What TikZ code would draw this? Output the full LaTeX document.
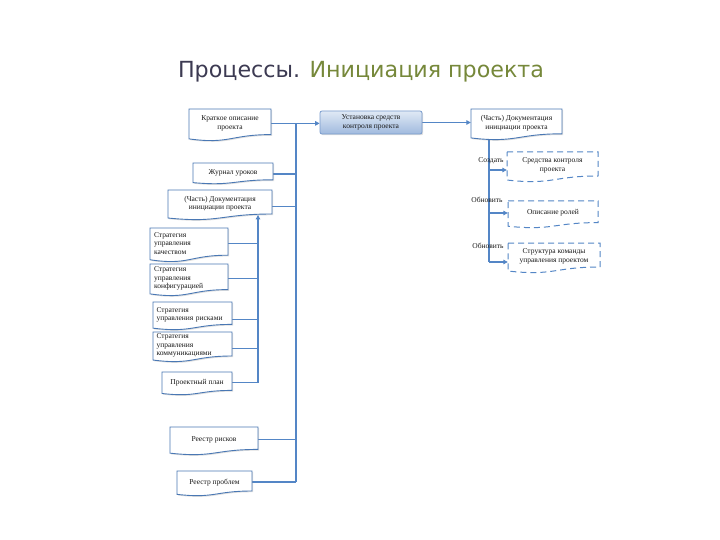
\documentclass[tikz,border=0pt]{standalone}
\usepackage{fontspec}
\setmainfont{Liberation Serif}
\newfontfamily\titlefont{DejaVu Sans}
\usetikzlibrary{arrows.meta,shadows,calc}
\definecolor{lnblue}{RGB}{84,134,198}
\definecolor{bxblue}{RGB}{74,120,180}
\definecolor{titlegray}{RGB}{60,58,82}
\definecolor{titlegreen}{RGB}{118,136,58}
\definecolor{ctrltop}{RGB}{224,233,245}
\definecolor{ctrlbot}{RGB}{160,186,222}
\definecolor{ctrlline}{RGB}{120,155,205}
\pgfdeclarelayer{back}
\pgfdeclarelayer{bg}
\pgfsetlayers{back,bg,main}
\tikzset{
  docsolid/.style={draw=bxblue, line width=0.9pt, fill=white,
    drop shadow={shadow xshift=1.2pt, shadow yshift=-1.2pt, opacity=0.25}},
  docdash/.style={draw=lnblue, line width=1pt, fill=white, dash pattern=on 6pt off 4pt},
  doctext/.style={inner sep=0pt, align=center, text=black!90,
    font=\fontsize{7.5}{8.5}\selectfont},
  leftt/.style={align=left, text width=#1},
  conn/.style={draw=lnblue, line width=1.6pt},
  arr/.style={conn, -{Triangle[length=4.5pt,width=4.5pt]}},
  ctrlbox/.style={rounded corners=2pt, draw=ctrlline, line width=0.8pt,
    top color=ctrltop, bottom color=ctrlbot, minimum width=102pt,
    minimum height=23pt, inner sep=0pt, align=center, text=black!90,
    font=\fontsize{7.5}{8.5}\selectfont,
    drop shadow={shadow xshift=1.2pt, shadow yshift=-1.2pt, opacity=0.25}},
  lbl/.style={inner sep=0pt, text=black!90, font=\fontsize{7.5}{8.5}\selectfont}
}
% #1 path style, #2 node style, #3 name, #4 x0, #5 y0, #6 x1, #7 y1, #8 text
\newcommand{\mkdoc}[8]{%
  \path[#1] (#4,#5) -- (#6,#5) -- (#6,{#5+0.80*(#7-#5)})
    .. controls ({(#4+#6)/2},{#5+0.80*(#7-#5)}) and ({(#4+#6)/2},{#5+1.107*(#7-#5)})
    .. (#4,{#5+0.934*(#7-#5)}) -- cycle;
  \node[doctext, minimum width={(#6-#4)*1pt}, minimum height={0.75*(#7-#5)*1pt}, #2]
    (#3) at ({(#4+#6)/2},{#5+0.45*(#7-#5)}) {#8};
}
\begin{document}
\begin{tikzpicture}[x=1pt,y=-1pt]
\begin{pgfonlayer}{back}
\fill[white] (0,0) rectangle (720,540);
\end{pgfonlayer}
\useasboundingbox (0,0) rectangle (720,540);

% title
\node[anchor=base, inner sep=0pt, font=\titlefont\fontsize{22.2}{26}\selectfont] (title) at (361,78)
  {\textcolor{titlegray}{Процессы.} \textcolor{titlegreen}{Инициация проекта}};

% left documents
\mkdoc{docsolid}{}{brief}{189}{109}{271}{141}{Краткое описание\\проекта}
\mkdoc{docsolid}{}{lessons}{193}{163}{273}{184}{Журнал уроков}
\mkdoc{docsolid}{}{pid}{168}{190}{272}{220}{(Часть) Документация\\инициации проекта}
\mkdoc{docsolid}{leftt=70pt}{qual}{150}{228}{228}{262}{Стратегия\\управления\\качеством}
\mkdoc{docsolid}{leftt=70pt}{conf}{150}{264}{228}{296}{Стратегия\\управления\\конфигурацией}
\mkdoc{docsolid}{leftt=72pt}{risk}{153}{302}{232}{330}{Стратегия\\управления рисками}
\mkdoc{docsolid}{leftt=72pt}{comm}{153}{332}{232}{362}{Стратегия\\управления\\коммуникациями}
\mkdoc{docsolid}{}{plan}{162}{372}{232}{395}{Проектный план}
\mkdoc{docsolid}{}{riskreg}{170}{427}{258}{455}{Реестр рисков}
\mkdoc{docsolid}{}{issues}{177}{471}{252}{496}{Реестр проблем}

% process
\node[ctrlbox] (center) at (371,122.5) {Установка средств\\контроля проекта};

% right documents
\mkdoc{docsolid}{}{pidr}{471}{109}{562}{140}{(Часть) Документация\\инициации проекта}
\mkdoc{docdash}{}{ctrl}{507}{152}{598}{182}{Средства контроля\\проекта}
\mkdoc{docdash}{}{roles}{508}{201}{598}{228}{Описание ролей}
\mkdoc{docdash}{}{team}{508}{243}{600}{273}{Структура команды\\управления проектом}

% labels
\node[lbl] (lcreate) at (491,161) {Создать};
\node[lbl] (lupd1) at (487,200) {Обновить};
\node[lbl] (lupd2) at (488,246) {Обновить};

% bus coordinates
\coordinate (obusb) at (296,482);
\coordinate (ibusb) at (258,383);
\coordinate (rbusb) at (489,262);
\coordinate (br1) at (489,170);
\coordinate (br2) at (489,213);

\begin{pgfonlayer}{bg}
  % outer bus
  \draw[conn] (obusb) -- (obusb |- brief.east);
  \draw[conn] ([yshift=-1.5pt]lessons.east) -- ([yshift=-1.5pt]lessons.east -| obusb);
  \draw[conn] ([yshift=-3pt]pid.east) -- ([yshift=-3pt]pid.east -| obusb);
  \draw[conn] (riskreg.east) -- (riskreg.east -| obusb);
  \draw[conn] (issues.east) -- (issues.east -| obusb);
  % inner bus
  \draw[conn] (qual.east) -- (qual.east -| ibusb);
  \draw[conn] (conf.east) -- (conf.east -| ibusb);
  \draw[conn] ([yshift=-5pt]risk.east) -- ([yshift=-5pt]risk.east -| ibusb);
  \draw[conn] ([yshift=-3pt]comm.east) -- ([yshift=-3pt]comm.east -| ibusb);
  \draw[conn] (plan.east) -- (plan.east -| ibusb);
  \draw[arr] (ibusb) -- (ibusb |- pid.south);
  % main flow
  \draw[arr] (brief.east) -- (brief.east -| center.west);
  \draw[arr] (center.east) -- (center.east -| pidr.west);
  % right bus
  \draw[conn] (pidr.south -| rbusb) -- (rbusb);
  \draw[arr] (br1) -- (br1 -| ctrl.west);
  \draw[arr] (br2) -- (br2 -| roles.west);
  \draw[arr] (rbusb) -- (rbusb -| team.west);
\end{pgfonlayer}
\end{tikzpicture}
\end{document}
